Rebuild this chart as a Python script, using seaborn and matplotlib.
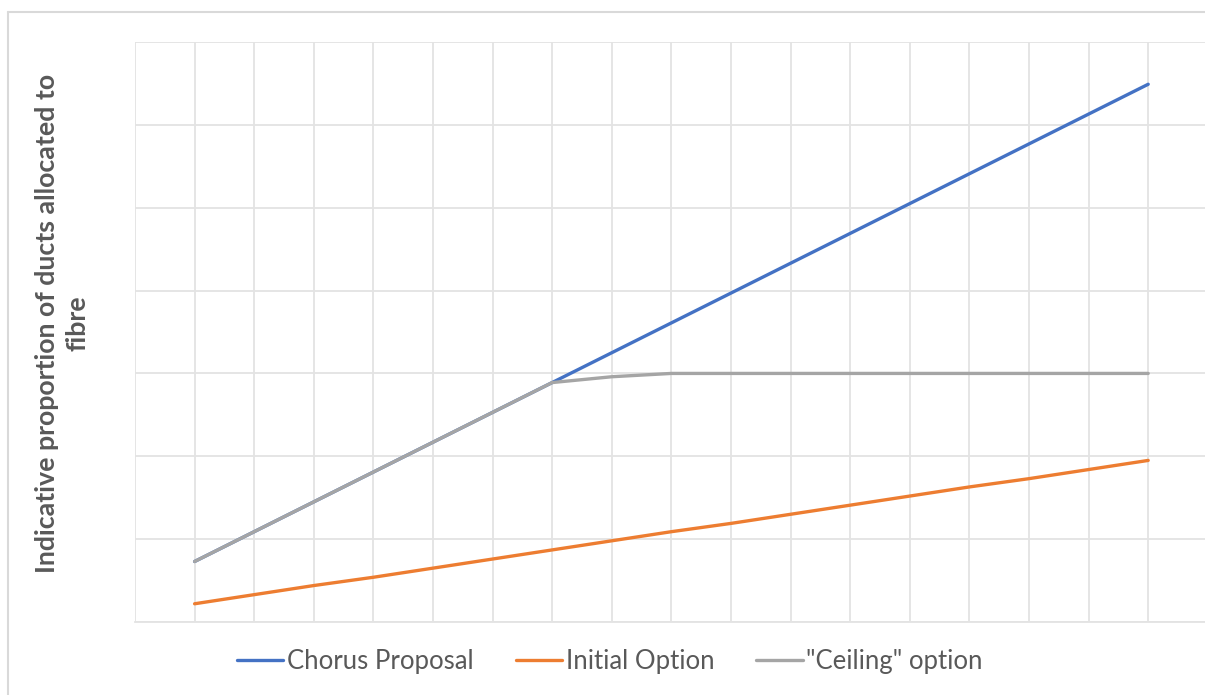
import matplotlib
matplotlib.use("Agg")
import matplotlib.pyplot as plt
from matplotlib.lines import Line2D
import numpy as np
import pandas as pd
import seaborn as sns

# Period index (categories along the horizontal axis)
periods = list(range(1, 18))

# Indicative share of ducts allocated to fibre (%)
chorus_proposal = [7.3, 10.9, 14.5, 18.1, 21.7, 25.3, 28.9, 32.5, 36.1,
                   39.7, 43.3, 46.9, 50.5, 54.1, 57.7, 61.3, 64.9]
initial_option = [2.2, 3.3, 4.4, 5.4, 6.5, 7.6, 8.7, 9.8, 10.9,
                  11.9, 13.0, 14.1, 15.2, 16.3, 17.3, 18.4, 19.5]
ceiling_option = [7.3, 10.9, 14.5, 18.1, 21.7, 25.3, 28.9, 29.6, 30.0,
                  30.0, 30.0, 30.0, 30.0, 30.0, 30.0, 30.0, 30.0]

series_names = ["Chorus Proposal", "Initial Option", "\"Ceiling\" option"]
series_colors = ["#4472C4", "#ED7D31", "#A5A5A5"]

df = pd.concat([
    pd.DataFrame({"period": periods, "share": vals, "series": name})
    for name, vals in zip(series_names, [chorus_proposal, initial_option, ceiling_option])
])

sns.set_theme(style="white")
plt.rcParams["font.family"] = ["Lato", "DejaVu Sans"]

W, H = 1205, 695
fig = plt.figure(figsize=(W / 100, H / 100), dpi=100)
fig.patch.set_facecolor("white")

left, right, top, bottom = 135, 1205, 42, 622
ax = fig.add_axes([left / W, (H - bottom) / H, (right - left) / W, (bottom - top) / H])

grid_color = "#E3E3E3"
sns.lineplot(data=df, x="period", y="share", hue="series",
             hue_order=series_names, palette=series_colors,
             linewidth=2.4, ax=ax, legend=False, zorder=3)
# Ceiling drawn on top of the shared segment
ax.lines[2].set_zorder(4)

ax.set_xlim(0, (right - left) / 59.6)
ax.set_ylim(0, 70)
ax.set_xticks(np.arange(0, 18))
ax.set_yticks(np.arange(0, 71, 10))
ax.tick_params(length=0, labelbottom=False, labelleft=False)
ax.grid(True, color=grid_color, linewidth=1.3)
ax.set_axisbelow(True)
for side in ["top", "right", "left"]:
    ax.spines[side].set_visible(False)
ax.spines["bottom"].set_color(grid_color)
ax.spines["bottom"].set_linewidth(1.3)
ax.set_xlabel("")
ax.set_ylabel("")

# Axis title
fig.text(62 / W, 1 - 323 / H, "Indicative proportion of ducts allocated to\nfibre",
         rotation=90, ha="center", va="center", fontsize=19.3, fontweight="bold",
         color="#595959", linespacing=1.3)

# Legend along the bottom
handles = [Line2D([0], [0], color=c, lw=2.4) for c in series_colors]
fig.legend(handles, series_names, loc="center", bbox_to_anchor=(610 / W, 1 - 661 / H),
           ncol=3, frameon=False, fontsize=18.5, labelcolor="#595959",
           handlelength=1.8, handletextpad=0.15, columnspacing=1.63)

# Chart frame
frame_color = "#D9D9D9"
fig.add_artist(Line2D([8 / W, 8 / W], [0, 1 - 12 / H], transform=fig.transFigure,
                      color=frame_color, lw=1.5))
fig.add_artist(Line2D([8 / W, 1], [1 - 12 / H, 1 - 12 / H], transform=fig.transFigure,
                      color=frame_color, lw=1.5))

fig.savefig("out.png", dpi=100, facecolor="white")
